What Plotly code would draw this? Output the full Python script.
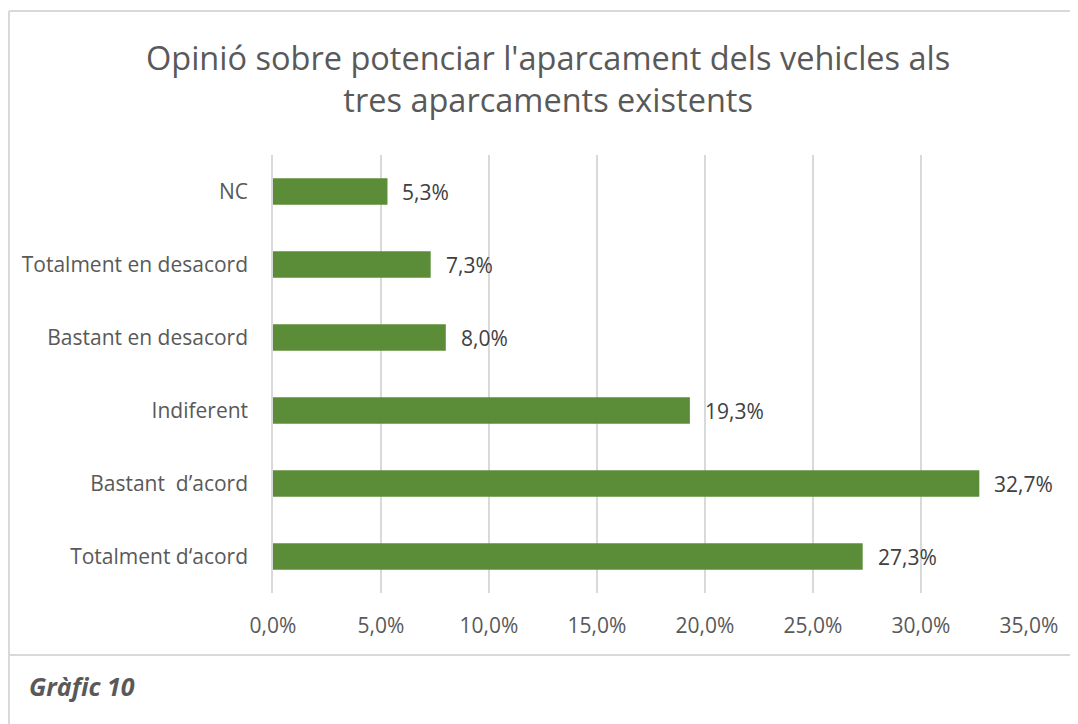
import plotly.graph_objects as go

categories = ["Totalment d‘acord", "Bastant  d’acord", "Indiferent", "Bastant en desacord", "Totalment en desacord", "NC"]
values = [27.3, 32.7, 19.3, 8.0, 7.3, 5.3]
tick_vals = [0, 5, 10, 15, 20, 25, 30, 35]
tick_text = ["0,0%", "5,0%", "10,0%", "15,0%", "20,0%", "25,0%", "30,0%", "35,0%"]
label_text = [f"{v:.1f}%".replace(".", ",") for v in values]

# page body adds an 8px offset; work in reference pixel coords minus 8
OFF = 8
W, H = 1078 - OFF, 724 - OFF
L, R, T, B = 273 - OFF, 1029 - OFF, 155 - OFF, 593 - OFF
FONT = "'Open Sans', sans-serif"
GRAY = "#595959"

fig = go.Figure(go.Bar(
    x=values, y=categories, orientation="h",
    marker=dict(color="#5b8c37", line=dict(width=0)),
    width=0.36, hoverinfo="skip",
))

for c, v, t in zip(categories, values, label_text):
    fig.add_annotation(x=v, y=c, text=t, showarrow=False, xanchor="left",
                       xshift=13, font=dict(family=FONT, size=21, color="#404040"))

def px(p):
    return (p - OFF - L) / (R - L)

def py(p):
    return (B - (p - OFF)) / (B - T)

line = dict(color="#d9d9d9", width=2)
fig.add_shape(type="line", xref="paper", yref="paper", x0=px(9), x1=px(1090), y0=py(11), y1=py(11), line=line)
fig.add_shape(type="line", xref="paper", yref="paper", x0=px(9), x1=px(9), y0=py(11), y1=py(740), line=line)
fig.add_shape(type="line", xref="paper", yref="paper", x0=px(9), x1=px(1090), y0=py(655), y1=py(655), line=line)

fig.add_annotation(xref="paper", yref="paper", x=px(27), y=py(686), xanchor="left", yanchor="middle",
                   text="<b><i>Gràfic 10</i></b>", showarrow=False,
                   font=dict(family=FONT, size=25, color=GRAY))

fig.add_annotation(xref="paper", yref="paper", x=px(548), y=py(78), xanchor="center", yanchor="middle",
                   text="Opinió sobre potenciar l'aparcament dels vehicles als<br>tres aparcaments existents",
                   showarrow=False, font=dict(family=FONT, size=32.5, color=GRAY))

fig.update_layout(
    width=W, height=H,
    margin=dict(l=L, r=W - R, t=T, b=H - B, pad=0),
    paper_bgcolor="white", plot_bgcolor="white",
    showlegend=False,
    font=dict(family=FONT, color=GRAY, size=21),
    xaxis=dict(range=[0, 35], tickvals=tick_vals, ticktext=tick_text,
               showgrid=True, gridcolor="#d9d9d9", gridwidth=1.5,
               zeroline=False, showline=False, ticks="outside", ticklen=14, tickcolor="rgba(0,0,0,0)",
               tickfont=dict(family=FONT, size=21, color=GRAY)),
    yaxis=dict(categoryorder="array", categoryarray=categories, range=[-0.5, 5.5],
               showgrid=False, zeroline=False, showline=True, linecolor="#d9d9d9", linewidth=1.5,
               ticks="outside", ticklen=19, tickcolor="rgba(0,0,0,0)",
               tickfont=dict(family=FONT, size=21, color=GRAY)),
)

fig.write_html("out.html")
